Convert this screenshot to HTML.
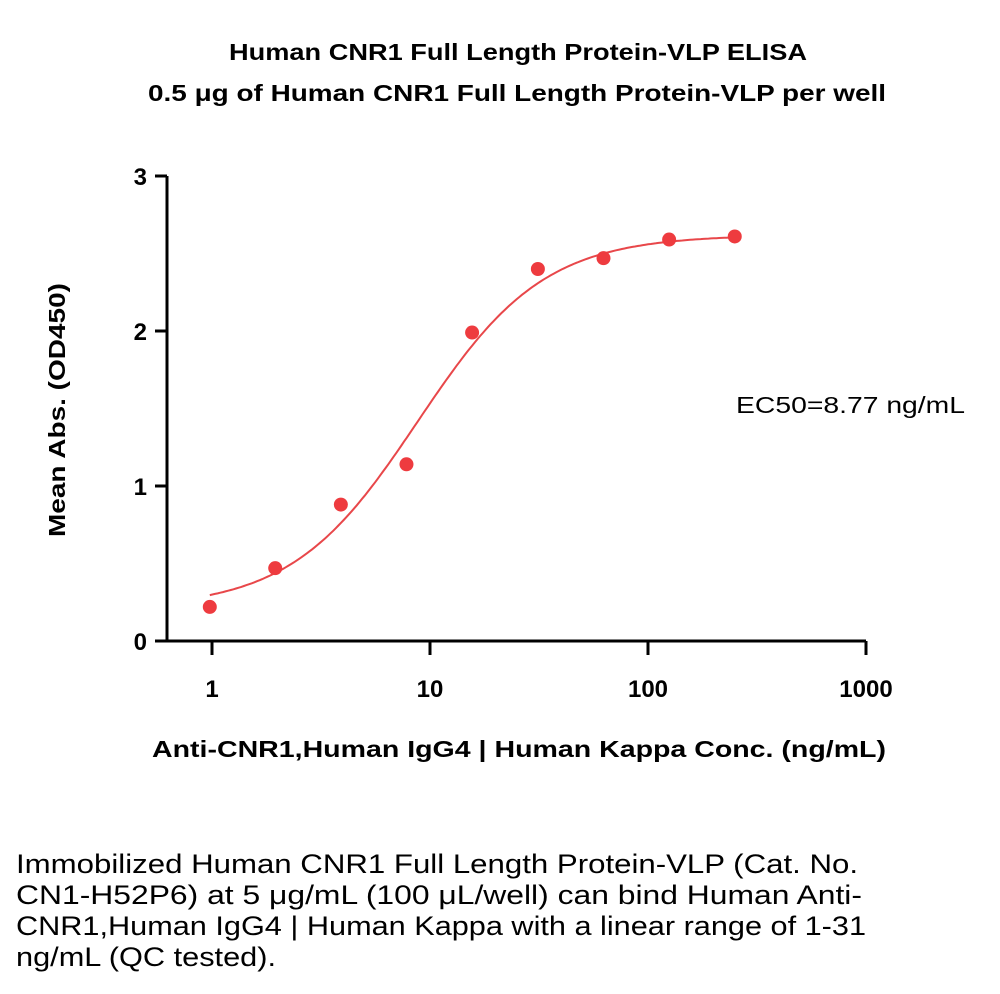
<!DOCTYPE html>
<html><head><meta charset="utf-8">
<style>
body{margin:0;background:#fff;width:1000px;height:994px;overflow:hidden;font-family:"Liberation Sans","DejaVu Sans",sans-serif}
</style></head><body>
<svg id="chart" width="1000" height="994" style="position:absolute;left:0;top:0">
<text x="229" y="60" font-size="23" font-weight="bold" textLength="578" lengthAdjust="spacingAndGlyphs">Human CNR1 Full Length Protein-VLP ELISA</text>
<text x="148" y="101" font-size="23" font-weight="bold" textLength="738" lengthAdjust="spacingAndGlyphs">0.5 μg of Human CNR1 Full Length Protein-VLP per well</text>
<g id="axes"></g>
<g id="marks"></g>
<text transform="translate(65,537) rotate(-90)" font-size="23" font-weight="bold" textLength="254" lengthAdjust="spacingAndGlyphs">Mean Abs. (OD450)</text>
<text x="152" y="757" font-size="23" font-weight="bold" textLength="734" lengthAdjust="spacingAndGlyphs">Anti-CNR1,Human IgG4 | Human Kappa Conc. (ng/mL)</text>
<text x="736" y="413" font-size="23" textLength="229" lengthAdjust="spacingAndGlyphs">EC50=8.77 ng/mL</text>
<g font-size="27">
<text x="16" y="873" textLength="842" lengthAdjust="spacingAndGlyphs">Immobilized Human CNR1 Full Length Protein-VLP (Cat. No.</text>
<text x="16" y="904" textLength="846" lengthAdjust="spacingAndGlyphs">CN1-H52P6) at 5 μg/mL (100 μL/well) can bind Human Anti-</text>
<text x="16" y="935" textLength="850" lengthAdjust="spacingAndGlyphs">CNR1,Human IgG4 | Human Kappa with a linear range of 1-31</text>
<text x="16" y="966" textLength="260" lengthAdjust="spacingAndGlyphs">ng/mL (QC tested).</text>
</g>
</svg>
<script>
const concs=[0.977,1.95,3.9,7.8,15.6,31.25,62.5,125,250];
const values=[0.22,0.47,0.88,1.14,1.99,2.40,2.47,2.59,2.61];
const yTicks=[0,1,2,3];
const xTicks=[1,10,100,1000];
const xTickLabels=["1","10","100","1000"];
const fitBottom=0.21, fitTop=2.62, fitEC50=8.77, fitHill=1.5;
const NS="http://www.w3.org/2000/svg";
const X=v=>212+218*Math.log10(v);
const Y=v=>641-155*v;
const axes=document.getElementById('axes'), marks=document.getElementById('marks');
function mk(tag,attrs,parent){const e=document.createElementNS(NS,tag);for(const k in attrs)e.setAttribute(k,attrs[k]);parent.appendChild(e);return e;}
let yl=mk('line',{x1:167,x2:167,y1:Y(3),y2:Y(0)+1.5,stroke:'#000','stroke-width':3},axes);


let xl=mk('line',{x1:165.5,x2:X(1000),y1:Y(0),y2:Y(0),stroke:'#000','stroke-width':3},axes);


yTicks.forEach(t=>{
  mk('line',{x1:155,x2:167,y1:Y(t),y2:Y(t),stroke:'#000','stroke-width':3},axes);
  const tx=mk('text',{x:147,y:Y(t)+9,'font-size':24,'font-weight':'bold','text-anchor':'end'},axes);
  tx.textContent=t;
  
  
});
xTicks.forEach((t,i)=>{
  mk('line',{x1:X(t),x2:X(t),y1:Y(0),y2:Y(0)+14,stroke:'#000','stroke-width':3},axes);
  const tx=mk('text',{x:X(t),y:697,'font-size':24,'font-weight':'bold','text-anchor':'middle'},axes);
  tx.textContent=xTickLabels[i];
  
  
});
let d='';
for(let i=0;i<=200;i++){const lx=Math.log10(concs[0])+(Math.log10(concs[concs.length-1])-Math.log10(concs[0]))*i/200;const c=Math.pow(10,lx);
const v=fitBottom+(fitTop-fitBottom)/(1+Math.pow(fitEC50/c,fitHill));d+=(i?'L':'M')+X(c).toFixed(1)+' '+Y(v).toFixed(1);}
const fit=mk('path',{d:d,fill:'none',stroke:'#e8474a','stroke-width':2},marks);


concs.forEach((c,i)=>{
  const p=mk('circle',{cx:X(c),cy:Y(values[i]),r:7,fill:'#ee3b3f'},marks);
  
  
});
</script>
</body></html>
